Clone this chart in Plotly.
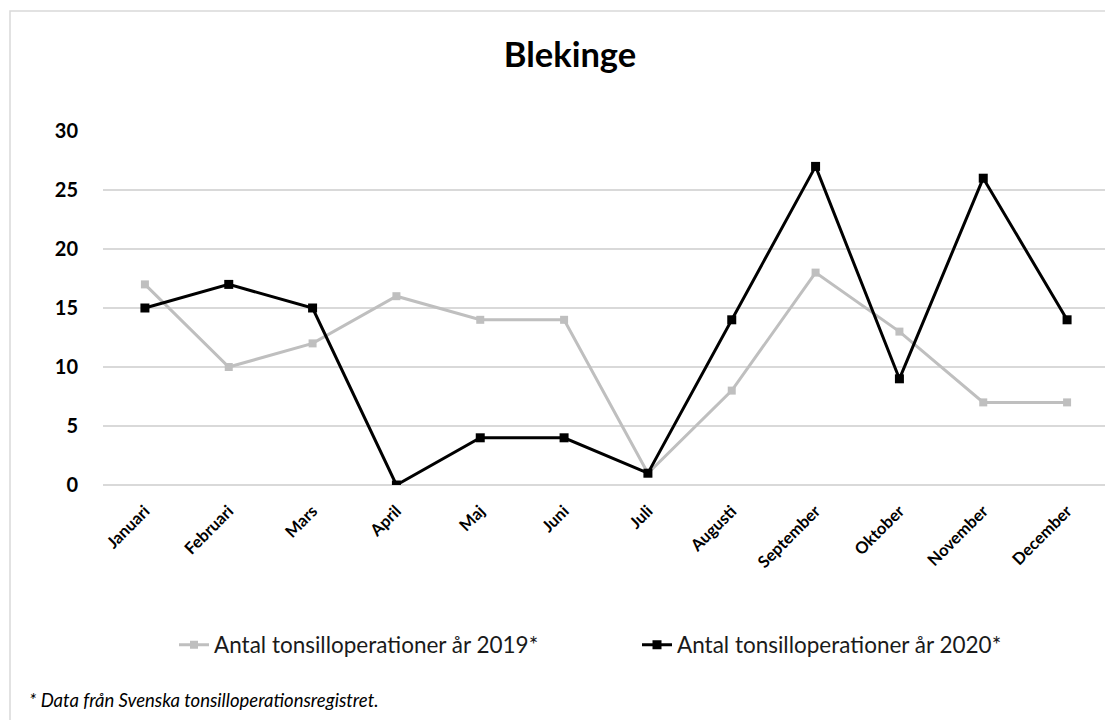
import plotly.graph_objects as go

months = ["Januari", "Februari", "Mars", "April", "Maj", "Juni", "Juli",
          "Augusti", "September", "Oktober", "November", "December"]
values_2019 = [17, 10, 12, 16, 14, 14, 1, 8, 18, 13, 7, 7]
values_2020 = [15, 17, 15, 0, 4, 4, 1, 14, 27, 9, 26, 14]
name_2019 = "Antal tonsilloperationer år 2019*"
name_2020 = "Antal tonsilloperationer år 2020*"
title_text = "Blekinge"
footnote = "* Data från Svenska tonsilloperationsregistret."
y_ticks = [0, 5, 10, 15, 20, 25, 30]

FONT = "Lato, 'Open Sans', sans-serif"
OFF = 8  # page body margin
W, H = 1113 - OFF, 720 - OFF
ml, mr, mt, mb = 103 - OFF, 4, 131 - OFF, 235
pw, ph = W - ml - mr, H - mt - mb

def px_x(X):
    return (X - OFF - ml) / pw

def px_y(Y):
    return (H - mb - (Y - OFF)) / ph

def cx(X):
    return (X - OFF) / W

def cy(Y):
    return 1 - (Y - OFF) / H

fig = go.Figure()
fig.add_trace(go.Scatter(
    x=months, y=values_2019, name=name_2019, mode="lines+markers",
    line=dict(color="#bfbfbf", width=3),
    marker=dict(symbol="square", size=8, color="#bfbfbf"),
))
fig.add_trace(go.Scatter(
    x=months, y=values_2020, name=name_2020, mode="lines+markers",
    line=dict(color="#000000", width=3),
    marker=dict(symbol="square", size=9, color="#000000"),
))

fig.update_layout(
    width=W, height=H,
    margin=dict(l=ml, r=mr, t=mt, b=mb, autoexpand=False),
    paper_bgcolor="white", plot_bgcolor="white",
    font=dict(family=FONT, color="#000000"),
    title=dict(text="<b>" + title_text + "</b>", font=dict(size=34.5, family=FONT),
               x=px_x(570), xref="paper", xanchor="center",
               y=cy(55), yref="container", yanchor="middle"),
    legend=dict(orientation="h", xref="container", yref="container",
                x=cx(174), xanchor="left", y=cy(645), yanchor="middle",
                font=dict(size=22.5, family=FONT, color="#1a1a1a"),
                entrywidth=418, entrywidthmode="pixels",
                bgcolor="rgba(0,0,0,0)"),
    xaxis=dict(type="category", tickangle=-45, showgrid=False,
               showline=False, zeroline=False,
               tickfont=dict(size=16.5, family=FONT, weight="bold"),
               range=[-0.5, 11.5], ticks="outside", ticklen=9,
               tickcolor="rgba(0,0,0,0)"),
    yaxis=dict(range=[0, 30], tickvals=y_ticks, showgrid=True,
               gridcolor="#d9d9d9", gridwidth=1.5, zeroline=True,
               zerolinecolor="#d9d9d9", zerolinewidth=1.5,
               showline=False, tickfont=dict(size=20, family=FONT, weight="bold"),
               ticks="outside", ticklen=20, tickcolor="rgba(0,0,0,0)"),
    shapes=[dict(type="rect", xref="paper", yref="paper",
                 x0=px_x(10), x1=1.2, y0=-1.0, y1=px_y(11),
                 line=dict(color="#d9d9d9", width=1.5),
                 fillcolor="rgba(0,0,0,0)", layer="below")],
    annotations=[dict(text="<i>" + footnote + "</i>", xref="paper", yref="paper",
                      x=px_x(27), y=px_y(700), xanchor="left", yanchor="middle",
                      showarrow=False, font=dict(size=18.5, family=FONT, color="#000000"))],
)

fig.write_html("out.html")
